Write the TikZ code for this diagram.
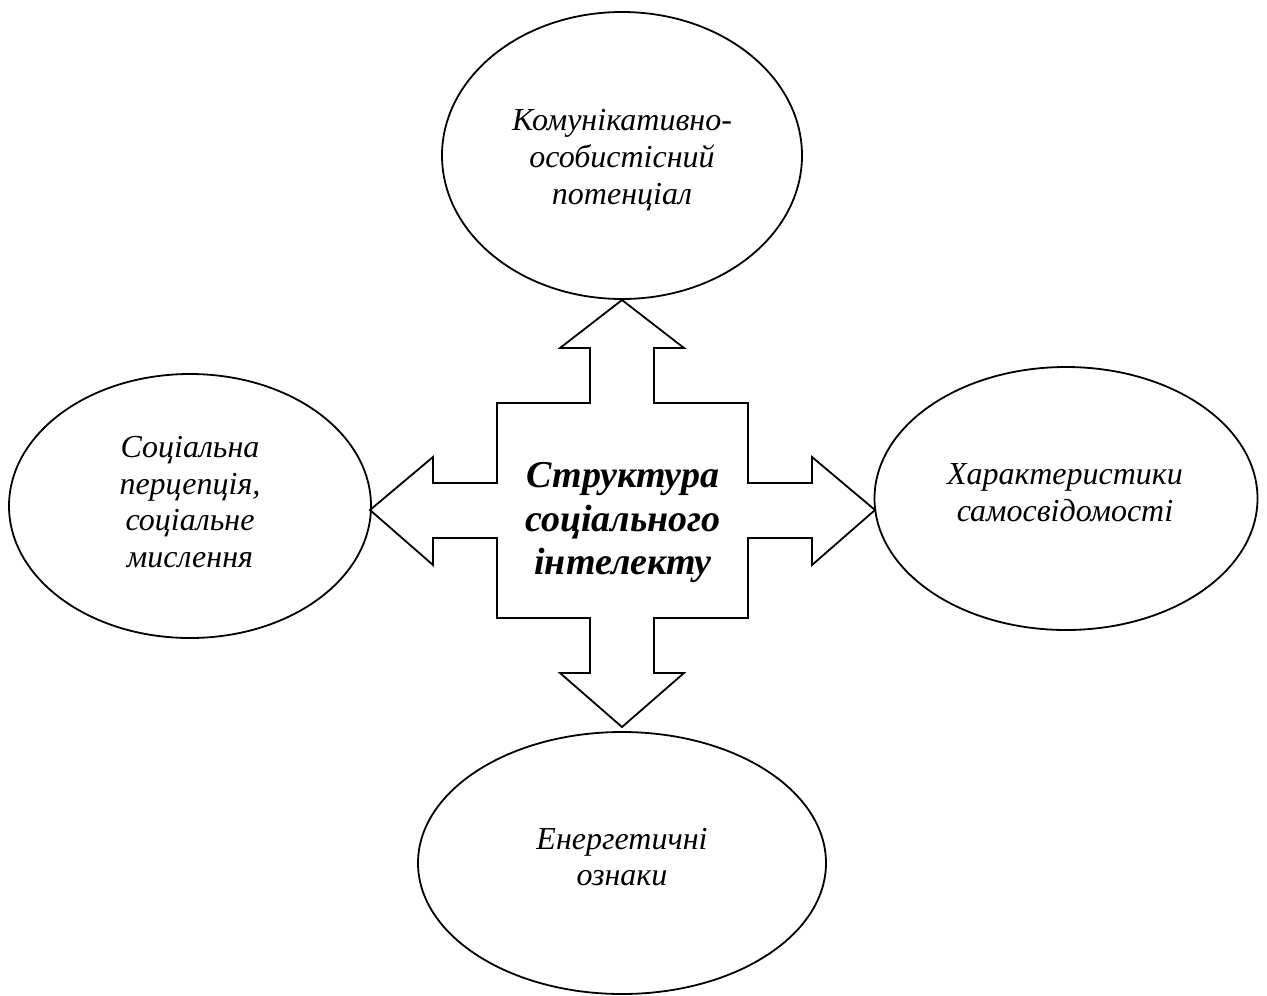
\documentclass[tikz,border=0pt]{standalone}
\usepackage{fontspec}
\setmainfont{Liberation Serif}
\usetikzlibrary{shapes.geometric}
\begin{document}
\begin{tikzpicture}[x=0.5pt,y=-0.5pt,
  oval/.style={ellipse, draw, line width=0.9pt, inner sep=0pt},
  lbl/.style={align=center, inner sep=0pt, font=\fontsize{16}{18.35}\selectfont\itshape},
  title/.style={align=center, inner sep=0pt, font=\fontsize{19}{21.75}\selectfont\bfseries\itshape},
  cross/.style={draw, line width=0.9pt, line join=miter}]
\useasboundingbox (0,0) rectangle (1267,995);
% ellipses
\node[oval, minimum width=360pt*0.5, minimum height=287pt*0.5] (T) at (622,155.5) {};
\node[oval, minimum width=362pt*0.5, minimum height=264pt*0.5] (L) at (190,506) {};
\node[oval, minimum width=383pt*0.5, minimum height=263pt*0.5] (R) at (1066,498.5) {};
\node[oval, minimum width=408pt*0.5, minimum height=262pt*0.5] (B) at (622,863) {};
% texts
\node[lbl] (Tt) at (622,160) {Комунікативно-\\особистісний\\потенціал};
\node[lbl] (Lt) at (190,502) {Соціальна\\перцепція,\\соціальне\\мислення};
\node[lbl] (Rt) at (1065,493) {Характеристики\\самосвідомості};
\node[lbl] (Bt) at (622,857) {Енергетичні\\ознаки};
% central cross arrow
\coordinate (tipT) at (622,300);
\coordinate (tipR) at (875,510);
\coordinate (tipB) at (622,727);
\coordinate (tipL) at (370,510);
\draw[cross] (tipT) -- (684,348) -- (654,348) -- (654,403) -- (748,403) -- (748,483)
  -- (812,483) -- (812,457) -- (tipR) -- (812,565) -- (812,538) -- (748,538)
  -- (748,618) -- (654,618) -- (654,673) -- (684,673) -- (tipB) -- (560,673)
  -- (590,673) -- (590,618) -- (497,618) -- (497,538) -- (433,538) -- (433,565)
  -- (tipL) -- (433,457) -- (433,483) -- (497,483) -- (497,403) -- (590,403)
  -- (590,348) -- (560,348) -- cycle;
\node[title] (C) at (623,523) {Структура\\соціального\\інтелекту};
\end{tikzpicture}
\end{document}
